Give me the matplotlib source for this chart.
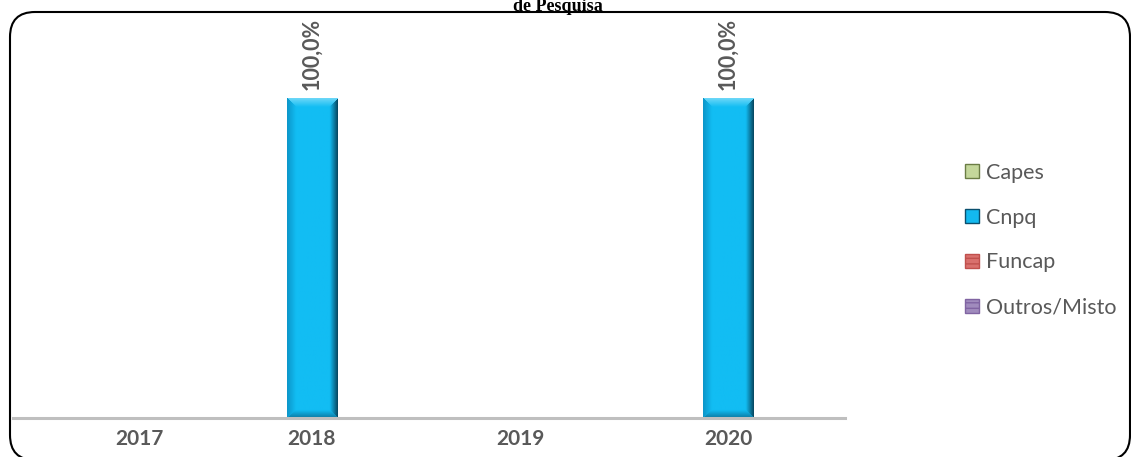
import numpy as np
import matplotlib
matplotlib.use("Agg")
import matplotlib.pyplot as plt
from matplotlib.patches import FancyBboxPatch, Patch
from matplotlib.colors import to_rgb

# --- Datos ---
anos = ["2017", "2018", "2019", "2020"]
series = ["Capes", "Cnpq", "Funcap", "Outros/Misto"]
capes = [0.0, 0.0, 0.0, 0.0]
cnpq = [0.0, 1.0, 0.0, 1.0]
funcap = [0.0, 0.0, 0.0, 0.0]
outros = [0.0, 0.0, 0.0, 0.0]
valores = [capes, cnpq, funcap, outros]

cores = ["#9bbb59", "#13b9ef", "#c0504d", "#8064a2"]
cinza = "#595959"
fonte = "Lato"


def bisel(wpx, hpx, b=9):
    # textura de barra com bisel (estilo Excel)
    u = (np.arange(int(wpx)) + 0.5)[None, :]
    v = (np.arange(int(hpx)) + 0.5)[:, None]
    dl, dr = u + 0 * v, wpx - u + 0 * v
    dt, db = v + 0 * u, hpx - v + 0 * u
    d = np.stack([dl, dr, dt, db])
    qual = d.argmin(axis=0)
    dmin = d.min(axis=0)
    centro = np.array(to_rgb("#12bdf3"))
    lados = [np.array(to_rgb(c)) for c in ["#0c95c8", "#06354a", "#6fd8f8", "#0b6f96"]]
    img = np.ones((int(hpx), int(wpx), 3)) * centro
    t = np.clip(dmin / b, 0, 1)[..., None]
    for k in range(4):
        m = (qual == k) & (dmin < b)
        img[m] = (lados[k] * (1 - t) + centro * t)[m]
    return img


# --- Figura ---
fig = plt.figure(figsize=(11.31, 4.57), dpi=100)
ax = fig.add_axes([13 / 1131, 39 / 457, 832 / 1131, 398 / 457])
ax.set_xlim(-0.5, 3.5)
ax.set_ylim(0, 1.244)

x = np.arange(len(anos))
largura = 0.245
passo = 0.125
desl = (np.arange(len(series)) - 1.5) * passo

px_x = 832 / 4
px_y = 398 / 1.244

for i, (nome, vals) in enumerate(zip(series, valores)):
    barras = ax.bar(x + desl[i], vals, width=largura, color=cores[i], zorder=2)
    for b, v in zip(barras, vals):
        if v <= 0:
            continue
        x0, w, h = b.get_x(), b.get_width(), b.get_height()
        img = ax.imshow(bisel(w * px_x, h * px_y), aspect="auto", extent=(x0, x0 + w, 0, h),
                        zorder=3, interpolation="bilinear")
        img.set_clip_path(b)
        ax.annotate(f"{v * 100:.1f}%".replace(".", ","), (x0 + w / 2, h),
                    xytext=(0, 6), textcoords="offset points", rotation=90,
                    ha="center", va="bottom", fontsize=15.5, fontweight="bold",
                    color=cinza, family=fonte)

ax.set_yticks([])
pos_rotulos = [0.11, 1 + desl[1], 2 + desl[1], 3 + desl[1]]
ax.set_xticks(pos_rotulos)
ax.set_xticklabels(anos, fontsize=15, fontweight="bold", color=cinza, family=fonte)
ax.tick_params(axis="x", length=0, pad=8)
for lado in ["top", "left", "right"]:
    ax.spines[lado].set_visible(False)
ax.spines["bottom"].set_color("#bfbfbf")
ax.spines["bottom"].set_linewidth(2.2)
ax.spines["bottom"].set_zorder(4)
ax.patch.set_alpha(0)

# --- Legenda ---
alcas = [
    Patch(facecolor="#c4d79b", edgecolor="#6b7d45"),
    Patch(facecolor="#13b9ef", edgecolor="#0a4f6e"),
    Patch(facecolor="#d9706d", edgecolor="#c0504d", hatch="---"),
    Patch(facecolor="#a08bbd", edgecolor="#8064a2", hatch="---"),
]
leg = fig.legend(alcas, series, loc="center left", bbox_to_anchor=(946 / 1131, 1 - 240 / 457),
                 frameon=False, prop={"family": fonte, "size": 15.5},
                 handlelength=0.65, handleheight=0.65, handletextpad=0.3, labelspacing=1.16)
for t in leg.get_texts():
    t.set_color(cinza)

# --- Titulo (parcialmente cortado no topo, como no original) ---
fig.text(558 / 1131, 1 - 11 / 457, "de Pesquisa", ha="center", va="baseline",
         fontsize=13, fontweight="bold", family="Liberation Serif")

# --- Moldura arredondada ---
moldura = FancyBboxPatch((0.10, -0.03), 11.20, 4.48, boxstyle="round,pad=0,rounding_size=0.25",
                         transform=fig.dpi_scale_trans, facecolor="none", edgecolor="black",
                         linewidth=1.5, zorder=10)
fig.patches.append(moldura)

plt.savefig("out.png", dpi=100)
